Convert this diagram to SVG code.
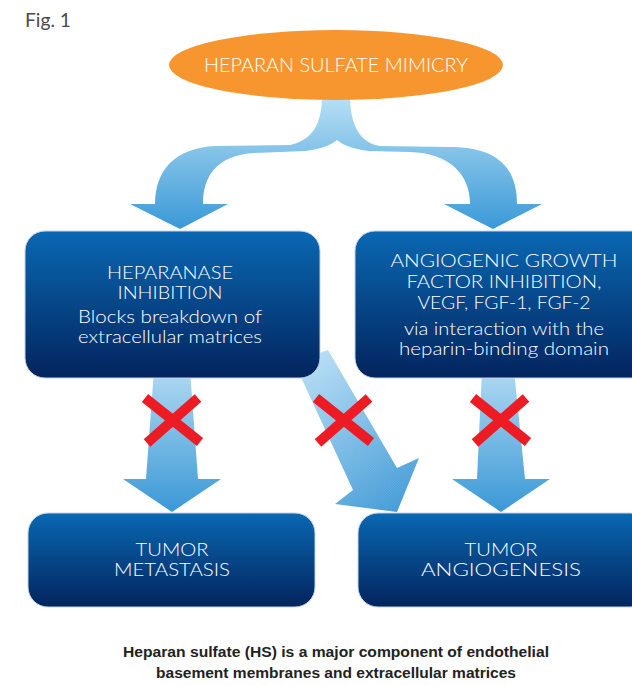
<svg xmlns="http://www.w3.org/2000/svg" width="632" height="685" viewBox="0 0 632 685">
<defs>
<linearGradient id="gTop" gradientUnits="userSpaceOnUse" x1="0" y1="95" x2="0" y2="229">
<stop offset="0" stop-color="#B9E1F6"/><stop offset="1" stop-color="#3A99D7"/>
</linearGradient>
<linearGradient id="gDown" gradientUnits="userSpaceOnUse" x1="0" y1="372" x2="0" y2="512">
<stop offset="0" stop-color="#AED8F2"/><stop offset="1" stop-color="#3A98D6"/>
</linearGradient>
<linearGradient id="gDiag" gradientUnits="userSpaceOnUse" x1="300" y1="365" x2="400" y2="512">
<stop offset="0" stop-color="#B5DDF4"/><stop offset="1" stop-color="#3D98D6"/>
</linearGradient>
<linearGradient id="gBox" x1="0" y1="0" x2="0" y2="1">
<stop offset="0" stop-color="#0A68B2"/><stop offset="1" stop-color="#03245E"/>
</linearGradient>
<pattern id="hatch" patternUnits="userSpaceOnUse" width="2.5" height="2.5">
<path d="M0,2.5 L2.5,0" stroke="#ffffff" stroke-opacity="0.2" stroke-width="0.6"/>
</pattern>
<style>
.box{fill:url(#gBox);stroke:#c5d3e6;stroke-width:1}
.bt{font-family:Lato,"Liberation Sans",sans-serif;font-weight:300;font-size:18px;fill:#ffffff;text-anchor:middle}
.x{stroke:#ED1C24;stroke-width:10;stroke-linecap:butt;fill:none}
</style>
</defs>
<rect width="632" height="685" fill="#ffffff"/>
<text x="25" y="27" font-family="Lato,'Liberation Sans',sans-serif" font-size="19" fill="#4a4a4a" textLength="46" lengthAdjust="spacingAndGlyphs">Fig. 1</text>

<g id="connectors">
<path d="M322,95 C322,125 312,140 290,145 L215,146 C175,148 155,170 155,204 L130,204 L180,229 L228,204 L203,204 C203,178 215,155 255,153 L305,151 C320,149 330,146 337,140 C344,146 354,149 369,151 L410,152 C450,153 470,175 470,204 L444,204 L493,229 L542,204 L517,204 C517,170 500,147 450,147 L380,146 C360,143 350,125 350,95 Z" fill="url(#gTop)"/>
<polygon points="154,370 190,370 198,479 221,479 172,512 123,479 146,479" fill="url(#gDown)"/>
<polygon points="482,370 514,370 525,479 550,479 501,512 452,479 477,479" fill="url(#gDown)"/>
<g>
<polygon points="294,362 328,350 397,468 419,458 397,512 335,504 353,490" fill="url(#gDiag)"/>
<polygon points="294,362 328,350 397,468 419,458 397,512 335,504 353,490" fill="url(#hatch)"/>
</g>
</g>

<g id="mimicry">
<ellipse cx="336" cy="65" rx="167" ry="35" fill="#F7962E"/>
<text x="336" y="72" font-family="Lato,'Liberation Sans',sans-serif" font-weight="300" font-size="19" fill="#ffffff" text-anchor="middle" textLength="264" lengthAdjust="spacingAndGlyphs">HEPARAN SULFATE MIMICRY</text>
</g>

<g id="heparanase">
<rect class="box" x="25" y="231" width="295" height="147" rx="20"/>
<text class="bt" x="170" y="279" textLength="126" lengthAdjust="spacingAndGlyphs">HEPARANASE</text>
<text class="bt" x="170" y="299" textLength="105" lengthAdjust="spacingAndGlyphs">INHIBITION</text>
<text class="bt" x="170" y="323" textLength="184" lengthAdjust="spacingAndGlyphs">Blocks breakdown of</text>
<text class="bt" x="170" y="343" textLength="184" lengthAdjust="spacingAndGlyphs">extracellular matrices</text>
</g>

<g id="angiogenic">
<rect class="box" x="355" y="231" width="298" height="147" rx="20"/>
<text class="bt" x="504" y="267" textLength="227" lengthAdjust="spacingAndGlyphs">ANGIOGENIC GROWTH</text>
<text class="bt" x="504" y="288" textLength="195" lengthAdjust="spacingAndGlyphs">FACTOR INHIBITION,</text>
<text class="bt" x="504" y="309" textLength="173" lengthAdjust="spacingAndGlyphs">VEGF, FGF-1, FGF-2</text>
<text class="bt" x="504" y="335" textLength="200" lengthAdjust="spacingAndGlyphs">via interaction with the</text>
<text class="bt" x="504" y="355" textLength="210" lengthAdjust="spacingAndGlyphs">heparin-binding domain</text>
</g>

<g id="metastasis">
<rect class="box" x="28" y="513" width="287" height="94" rx="20"/>
<text class="bt" x="172" y="556" textLength="73" lengthAdjust="spacingAndGlyphs">TUMOR</text>
<text class="bt" x="172" y="576" textLength="116" lengthAdjust="spacingAndGlyphs">METASTASIS</text>
</g>

<g id="angiogenesis">
<rect class="box" x="358" y="513" width="292" height="94" rx="20"/>
<text class="bt" x="501" y="556" textLength="73" lengthAdjust="spacingAndGlyphs">TUMOR</text>
<text class="bt" x="501" y="576" textLength="160" lengthAdjust="spacingAndGlyphs">ANGIOGENESIS</text>
</g>

<g id="blocks">
<path class="x" d="M145,398 L200,442 M198,398 L147,443"/>
<path class="x" d="M316,398 L371,442 M369,398 L318,443"/>
<path class="x" d="M473,398 L528,442 M526,398 L475,443"/>
</g>

<g id="caption" font-family="'Liberation Sans',Arial,sans-serif" font-weight="bold" font-size="14" fill="#222222" text-anchor="middle">
<text x="336" y="657" textLength="426" lengthAdjust="spacingAndGlyphs">Heparan sulfate (HS) is a major component of endothelial</text>
<text x="336" y="678" textLength="360" lengthAdjust="spacingAndGlyphs">basement membranes and extracellular matrices</text>
</g>
</svg>
